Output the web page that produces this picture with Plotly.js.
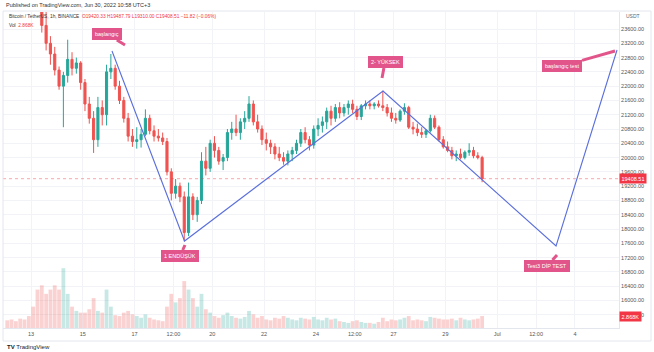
<!DOCTYPE html>
<html>
<head>
<meta charset="utf-8">
<script src="https://cdn.plot.ly/plotly-3.0.1.min.js"></script>
<style>html,body{margin:0;padding:0;background:#fff;}#chart{width:654px;height:352px;}</style>
</head>
<body>
<div id="chart"></div>
<script>
// ---- data: BTC/USDT, 4h candles (mid-times generated from first candle), local time UTC+3 ----
const firstCandleOpen = '2022-06-12T00:00:00Z';
const candleHours = 4;
const opens = [
 28400,28300,28000,27700,27300,27000,
 26600,26000,24800,23700,23200,22900,
 22450,22000,22300,22750,22500,22650,
 22100,21500,21100,20500,21400,21200,
 22400,22500,22000,21600,21100,20600,
 20450,20500,20650,21100,20750,20600,
 20550,20450,19600,19000,19200,18900,
 17900,18900,18400,18800,19900,19700,
 20400,20200,19900,20000,20700,20800,
 20700,21000,21100,21500,21000,20800,
 20500,20400,20300,20100,20000,19900,
 20100,20200,20400,20700,20500,20350,
 20800,20900,21000,21300,21100,21400,
 21250,21400,21500,21350,21150,21450,
 21500,21450,21500,21450,21400,21250,
 21100,21050,21300,21400,20850,20800,
 20700,20650,20750,21100,20850,20500,
 20300,20200,20050,20100,20000,20150,
 20200,20050,20000];
const highs = [
 28500,28450,28200,27900,27500,27200,
 26800,26100,25000,24100,23400,23100,
 22550,22400,23300,22950,22800,22700,
 22200,21700,21300,21700,21600,22600,
 22900,22600,22150,21700,21250,20800,
 20850,20800,21350,21200,20900,20800,
 20700,20550,19700,19400,19300,19050,
 19300,19000,18900,20150,20300,20500,
 20600,20300,20100,20800,21000,21200,
 21100,21300,21720,21600,21200,20900,
 20700,20500,20400,20300,20150,20200,
 20300,20500,20800,20850,20600,20900,
 21100,21150,21400,21450,21500,21550,
 21500,21600,21620,21450,21500,21600,
 21600,21550,21600,21870,21500,21400,
 21250,21350,21520,21450,21000,20950,
 20850,20800,21200,21180,20900,20600,
 20450,20300,20200,20250,20200,20400,
 20300,20150,20050];
const lows = [
 28200,27900,27600,27200,26900,26550,
 25800,24600,23500,23000,22600,22300,
 21900,20850,22100,22300,22350,21900,
 21300,20950,20130,20300,20900,20900,
 22200,21900,21500,20980,20450,20300,
 20250,20280,20600,20650,20450,20450,
 20350,19500,18800,18850,18750,17650,
 17800,18250,18200,18700,19500,19600,
 20000,19800,19650,19900,20500,20600,
 20500,20800,21000,20900,20700,20350,
 20200,20100,19950,19900,19800,19780,
 19900,20100,20300,20400,20200,20250,
 20600,20700,20800,20900,21000,21100,
 21150,21200,21250,21050,21050,21350,
 21350,21350,21400,21300,21150,21000,
 20950,21000,21200,20800,20650,20600,
 20550,20550,20700,20800,20450,20250,
 20150,19950,19900,19950,19950,20050,
 19980,19950,19310];
const closes = [
 28300,28000,27700,27300,27000,26600,
 26000,24800,23700,23200,22900,22450,
 22000,22300,22750,22500,22650,22100,
 21500,21100,20500,21400,21200,22400,
 22500,22000,21600,21100,20600,20450,
 20500,20650,21100,20750,20600,20550,
 20450,19600,19000,19200,18900,17900,
 18900,18400,18800,19900,19700,20400,
 20200,19900,20000,20700,20800,20700,
 21000,21100,21500,21000,20800,20500,
 20400,20300,20100,20000,19900,20100,
 20200,20400,20700,20500,20350,20800,
 20900,21000,21300,21100,21400,21250,
 21400,21500,21350,21150,21450,21500,
 21450,21500,21450,21400,21250,21100,
 21050,21300,21400,20850,20800,20700,
 20650,20750,21100,20850,20500,20300,
 20200,20050,20100,20000,20150,20200,
 20050,20000,19408.51];
const volumes = [ // K BTC per 4h
 9,10,8,11,10,14,
 25,45,50,40,45,50,
 45,70,40,25,20,18,
 18,22,35,20,18,45,
 25,15,14,18,20,16,
 14,12,16,12,10,9,
 8,25,40,30,35,55,
 45,35,25,40,22,18,
 14,12,15,18,14,12,
 11,13,20,16,12,14,
 10,9,12,11,14,12,
 10,9,12,11,10,13,
 10,9,12,10,11,8,
 7,6,8,9,7,6,
 6,5,7,12,8,10,
 9,10,12,14,9,10,
 9,8,13,12,11,10,
 10,11,9,12,10,9,
 10,11,14];

// drawn trend path (time, price)
const pathTimes = ['2022-06-16 03:03','2022-06-18 22:15','2022-06-26 14:10','2022-07-03 06:30','2022-07-05 15:00'];
const pathPrices = [22984, 17664, 21864, 17524, 23012];

// callouts: text, tip time, tip price
const calloutTexts = ['başlangıç','1 ENDÜŞÜK','2- YÜKSEK','başlangıç test','Test3 DİP TEST'];
const calloutTimes = ['2022-06-16 15:06','2022-06-18 22:42','2022-06-26 13:15','2022-07-05 13:09','2022-07-03 07:25'];
const calloutPrices = [23152, 17552, 22228, 22984, 17272];

// axis ticks
const xTickVals = ['2022-06-13','2022-06-15','2022-06-17','2022-06-18 12:00','2022-06-20','2022-06-22','2022-06-24','2022-06-25 12:00','2022-06-27','2022-06-29','2022-07-01','2022-07-02 12:00','2022-07-04'];
const xTickText = ['13','15','17','12:00','20','22','24','12:00','27','29','Jul','12:00','4'];
const priceTicks = [15600,16000,16400,16800,17200,17600,18000,18400,18800,19200,19600,20000,20400,20800,21200,21600,22000,22400,22800,23200,23600];

const legendTitle = 'Bitcoin / TetherUS, 1h, BINANCE';
const legendOHLC = 'O19420.33 H19487.79 L19310.00 C19408.51 −11.82 (−0.06%)';
const volText = '2.868K';

// ---- build ----
function fmt(d){const p=n=>String(n).padStart(2,'0');return d.getUTCFullYear()+'-'+p(d.getUTCMonth()+1)+'-'+p(d.getUTCDate())+' '+p(d.getUTCHours())+':'+p(d.getUTCMinutes());}
const t0 = Date.parse(firstCandleOpen);
const midTimes = closes.map((_,i)=>fmt(new Date(t0 + (i*candleHours + candleHours/2)*3600e3)));

const UP='#26a69a', DN='#ef5350', PINK='#e2558a', RED='#f23645';
const volColors = closes.map((c,i)=> c>=opens[i] ? 'rgba(38,166,154,0.26)' : 'rgba(239,83,80,0.26)');

const W=654,H=352, L=3, R=35, T=12, B=24;
const pw=W-L-R, ph=H-T-B;
const px=x=>(x-L)/pw, py=y=>1-(y-T)/ph;
const FONT='Liberation Sans, Arial';

const traces = [
 {type:'bar', x:midTimes, y:volumes, yaxis:'y2', marker:{color:volColors, line:{width:0}}, hoverinfo:'skip'},
 {type:'candlestick', x:midTimes, open:opens, high:highs, low:lows, close:closes,
  increasing:{line:{color:UP,width:1}, fillcolor:UP}, decreasing:{line:{color:DN,width:1}, fillcolor:DN}, whiskerwidth:0},
 {type:'scatter', mode:'lines', x:pathTimes, y:pathPrices, line:{color:'#5a6fdc', width:1.1}, hoverinfo:'skip'}
];

const offsets = [[-18,-11],[-5,11],[3,-16],[-53,15],[-10,11]];
const annotations = calloutTexts.map((t,i)=>({
 x:calloutTimes[i], y:calloutPrices[i], xref:'x', yref:'y', text:t,
 showarrow:true, arrowhead:0, arrowwidth:3, arrowcolor:PINK, ax:offsets[i][0], ay:offsets[i][1],
 bgcolor:PINK, borderpad:3, borderwidth:0, font:{color:'#fff', size:5.5, family:FONT}
}));
const lastClose = closes[closes.length-1];
annotations.push(
 {xref:'paper',yref:'paper',x:px(4),y:py(5),xanchor:'left',yanchor:'middle',showarrow:false,text:'Published on TradingView.com, Jun 30, 2022 10:58 UTC+3',font:{size:5.5,color:'#333',family:FONT}},
 {xref:'paper',yref:'paper',x:px(7),y:py(17),xanchor:'left',yanchor:'middle',showarrow:false,text:legendTitle+'  <span style="color:'+RED+'">'+legendOHLC+'</span>',font:{size:4.8,color:'#333',family:FONT}},
 {xref:'paper',yref:'paper',x:px(7),y:py(25),xanchor:'left',yanchor:'middle',showarrow:false,text:'Vol  <span style="color:'+RED+'">'+volText+'</span>',font:{size:4.8,color:'#333',family:FONT}},
 {xref:'paper',yref:'paper',x:px(624),y:py(16),xanchor:'left',yanchor:'middle',showarrow:false,text:'USDT',font:{size:5,color:'#666',family:FONT}},
 {xref:'paper',yref:'y',x:1,y:lastClose,xanchor:'left',yanchor:'middle',showarrow:false,text:lastClose.toFixed(2),bgcolor:RED,borderpad:1.5,font:{size:5.5,color:'#fff',family:FONT}},
 {xref:'paper',yref:'y2',x:1,y:volumes[volumes.length-1],xanchor:'left',yanchor:'middle',showarrow:false,text:volText,bgcolor:RED,borderpad:1.5,font:{size:5.5,color:'#fff',family:FONT}},
 {xref:'paper',yref:'paper',x:px(5),y:py(347),xanchor:'left',yanchor:'middle',showarrow:false,text:'<b>TV</b> TradingView',font:{size:6,color:'#222',family:FONT}}
);

const layout = {
 width:W, height:H, margin:{l:L,r:R,t:T,b:B,pad:0},
 paper_bgcolor:'#fff', plot_bgcolor:'#fff', showlegend:false, dragmode:false, bargap:0.12,
 font:{family:FONT, size:5.5, color:'#555'},
 xaxis:{type:'date', range:['2022-06-11 22:03','2022-07-05 16:50'], tickvals:xTickVals, ticktext:xTickText,
   showgrid:true, gridcolor:'#f1f3f6', gridwidth:1, ticks:'', tickfont:{size:5.5,color:'#555'},
   showline:true, linecolor:'#e3e6ec', linewidth:1, rangeslider:{visible:false}, zeroline:false, fixedrange:true},
 yaxis:{side:'right', range:[15228,24076], tickvals:priceTicks, tickformat:'.2f', showgrid:true, gridcolor:'#f1f3f6',
   ticks:'', tickfont:{size:5.5,color:'#555'}, showline:true, linecolor:'#e3e6ec', zeroline:false, fixedrange:true},
 yaxis2:{overlaying:'y', range:[0,370], visible:false, fixedrange:true},
 shapes:[
  {type:'line', xref:'paper', x0:0, x1:1, yref:'y', y0:lastClose, y1:lastClose, line:{color:'rgba(242,54,69,0.55)', width:0.8, dash:'dot'}},
  {type:'rect', xref:'paper', yref:'paper', x0:px(3), x1:px(651), y0:py(341), y1:py(11), line:{color:'#e3e6ec', width:1}}
 ],
 annotations:annotations
};
Plotly.newPlot('chart', traces, layout, {staticPlot:true, displayModeBar:false});
</script>
</body>
</html>
